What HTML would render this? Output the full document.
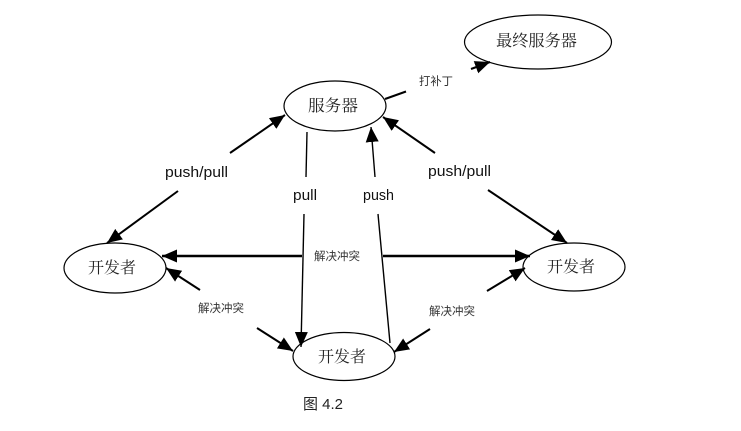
<!DOCTYPE html>
<html><head><meta charset="utf-8"><style>
html,body{margin:0;padding:0;background:#fff;width:741px;height:431px;overflow:hidden}
svg{display:block}
.n{font-family:"Liberation Serif","Noto Serif CJK SC",serif;font-size:16px;fill:#222}
.s{font-family:"Liberation Sans","Noto Sans CJK SC",sans-serif;font-size:11.5px;fill:#333}
.l{font-family:"Liberation Sans",sans-serif;font-size:14.5px;fill:#111}
line{stroke:#000;stroke-width:2}
line.t{stroke-width:1.4}
ellipse{fill:#fff;stroke:#000;stroke-width:1.2}
</style></head><body>
<svg width="741" height="431" viewBox="0 0 741 431" xmlns="http://www.w3.org/2000/svg">
<defs><marker id="a" markerUnits="userSpaceOnUse" markerWidth="16" markerHeight="14" refX="15" refY="6.5" orient="auto"><path d="M0 0L15 6.5L0 13Z" fill="#000"/></marker></defs>
<ellipse cx="538" cy="42" rx="73.5" ry="27"/>
<ellipse cx="335" cy="106" rx="51" ry="25"/>
<ellipse cx="115" cy="268" rx="51" ry="25"/>
<ellipse cx="574" cy="267" rx="51" ry="24"/>
<ellipse cx="344" cy="356.5" rx="51" ry="24"/>
<line x1="385" y1="99" x2="406" y2="91.5"/>
<line x1="471" y1="69" x2="490" y2="62" marker-end="url(#a)"/>
<line x1="230" y1="153" x2="285" y2="115" marker-end="url(#a)"/>
<line x1="178" y1="191" x2="107" y2="243" marker-end="url(#a)"/>
<line x1="435" y1="153" x2="383" y2="117" marker-end="url(#a)"/>
<line x1="488" y1="190" x2="567" y2="243" marker-end="url(#a)"/>
<line class="t" x1="307" y1="132" x2="306" y2="177"/>
<line class="t" x1="304" y1="214" x2="301" y2="347" marker-end="url(#a)"/>
<line class="t" x1="375" y1="177" x2="371" y2="127" marker-end="url(#a)"/>
<line class="t" x1="378" y1="214" x2="390" y2="343"/>
<line x1="302" y1="256" x2="162" y2="256" style="stroke-width:2.6" marker-end="url(#a)"/>
<line x1="383" y1="256" x2="530" y2="256" style="stroke-width:2.6" marker-end="url(#a)"/>
<line x1="200" y1="290" x2="166" y2="268" marker-end="url(#a)"/>
<line x1="257" y1="328" x2="293" y2="351" marker-end="url(#a)"/>
<line x1="487" y1="291" x2="525" y2="268" marker-end="url(#a)"/>
<line x1="430" y1="329" x2="394" y2="352" marker-end="url(#a)"/>
<text class="n" x="496" y="46" textLength="81" lengthAdjust="spacingAndGlyphs">最终服务器</text>
<text class="n" x="308" y="111" textLength="50" lengthAdjust="spacingAndGlyphs">服务器</text>
<text class="n" x="88" y="273" textLength="48" lengthAdjust="spacingAndGlyphs">开发者</text>
<text class="n" x="547" y="272" textLength="48" lengthAdjust="spacingAndGlyphs">开发者</text>
<text class="n" x="318" y="362" textLength="48" lengthAdjust="spacingAndGlyphs">开发者</text>
<text class="s" x="419" y="85" textLength="34" lengthAdjust="spacingAndGlyphs">打补丁</text>
<text class="s" x="314" y="260" textLength="46" lengthAdjust="spacingAndGlyphs">解决冲突</text>
<text class="s" x="198" y="312" textLength="46" lengthAdjust="spacingAndGlyphs">解决冲突</text>
<text class="s" x="429" y="315" textLength="46" lengthAdjust="spacingAndGlyphs">解决冲突</text>
<text class="l" x="165" y="177" textLength="63" lengthAdjust="spacingAndGlyphs">push/pull</text>
<text class="l" x="428" y="176" textLength="63" lengthAdjust="spacingAndGlyphs">push/pull</text>
<text class="l" x="293" y="200" textLength="24" lengthAdjust="spacingAndGlyphs">pull</text>
<text class="l" x="363" y="200" textLength="31" lengthAdjust="spacingAndGlyphs">push</text>
<text x="303" y="409" style="font-family:'Liberation Sans','Noto Sans CJK SC',sans-serif;font-size:15px;fill:#222" textLength="40" lengthAdjust="spacingAndGlyphs">图 4.2</text>
</svg>
</body></html>
